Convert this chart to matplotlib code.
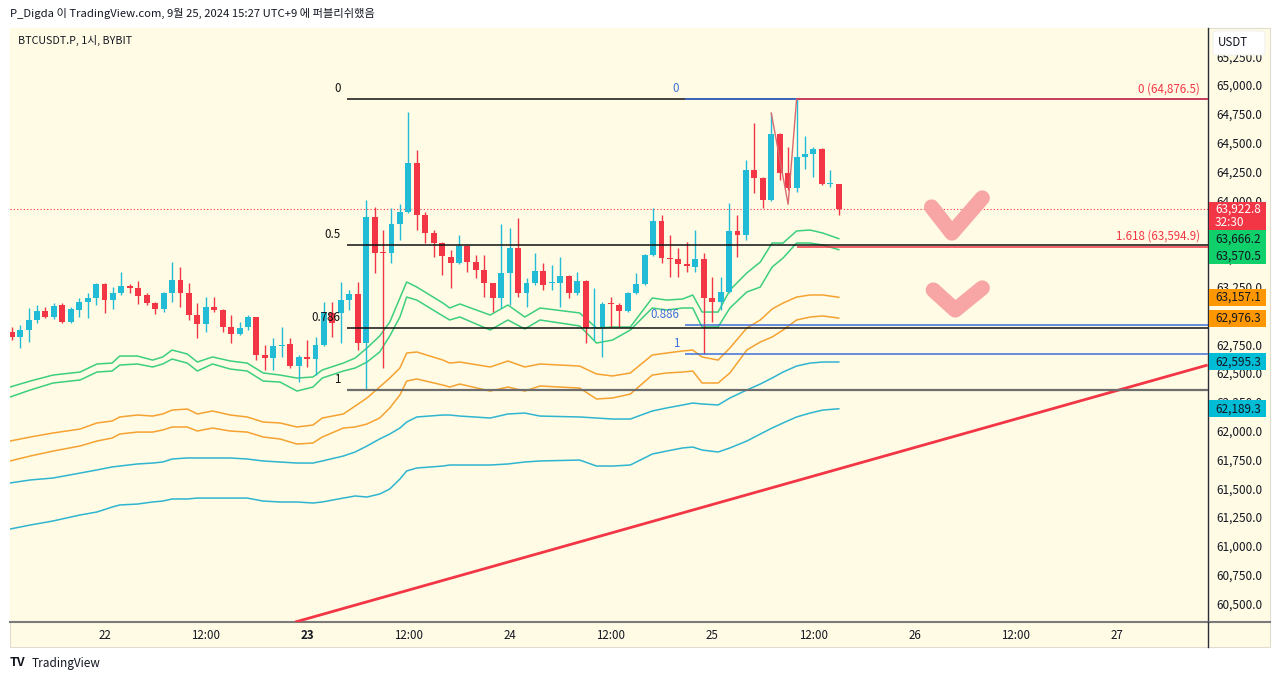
import matplotlib
matplotlib.use('Agg')
import matplotlib.pyplot as plt
import matplotlib.transforms as mtransforms
from matplotlib.patches import Rectangle, FancyBboxPatch
from matplotlib.lines import Line2D
from matplotlib.ticker import FuncFormatter, FixedLocator
import numpy as np

plt.rcParams['font.family'] = ['Noto Sans CJK KR', 'DejaVu Sans']

# 1h candles, x = hours counted from 22 Sep 00:00
hours = list(range(-11, 88))
opens = [62856, 62812, 62873, 62960, 63038, 62986, 63090, 62942, 63047, 63116,
         63151, 63272, 63133, 63194, 63255, 63238, 63177, 63107, 63055, 63194,
         63307, 63194, 63003, 62925, 63073, 63047, 62899, 62838, 62899, 62986,
         62656, 62630, 62734, 62751, 62560, 62639, 62621, 62743, 63021, 63021,
         63133, 63186, 62760, 63854, 63550, 63541, 63793, 63897, 64323, 63871,
         63715, 63628, 63507, 63455, 63602, 63463, 63394, 63281, 63151, 63368,
         63585, 63194, 63281, 63385, 63281, 63281, 63342, 63194, 63298, 62890,
         62899, 63107, 63090, 63038, 63194, 63272, 63524, 63819, 63498, 63489,
         63446, 63420, 63489, 63151, 63116, 63203, 63732, 63698, 64262, 64193,
         64002, 64575, 64236, 64106, 64375, 64401, 64444, 64140, 64140]
closes = [62812, 62873, 62960, 63038, 62986, 63081, 62942, 63055, 63116, 63151,
          63272, 63133, 63194, 63255, 63238, 63168, 63107, 63055, 63194, 63307,
          63194, 63003, 62925, 63073, 63047, 62899, 62838, 62890, 62986, 62656,
          62630, 62734, 62743, 62560, 62639, 62621, 62743, 63029, 62934, 63133,
          63186, 62760, 63854, 63541, 63541, 63793, 63897, 64323, 63871, 63715,
          63628, 63515, 63455, 63602, 63463, 63394, 63281, 63151, 63368, 63585,
          63194, 63281, 63385, 63264, 63290, 63342, 63194, 63298, 62890, 62899,
          63099, 63099, 63038, 63194, 63272, 63524, 63819, 63498, 63489, 63446,
          63429, 63489, 63151, 63116, 63203, 63732, 63698, 64262, 64193, 64002,
          64575, 64236, 64106, 64375, 64401, 64444, 64140, 64149, 63922.8]
highs = [62899, 62916, 63064, 63090, 63073, 63107, 63107, 63073, 63151, 63194,
         63281, 63281, 63246, 63377, 63272, 63298, 63194, 63116, 63203, 63463,
         63420, 63281, 63107, 63160, 63160, 63055, 63003, 62942, 63003, 62986,
         62743, 62803, 62899, 62803, 62656, 62786, 62812, 63116, 63116, 63290,
         63220, 63290, 64002, 63941, 63741, 63932, 63967, 64766, 64436, 63897,
         63741, 63637, 63567, 63698, 63610, 63524, 63524, 63285, 63793, 63759,
         63845, 63324, 63541, 63455, 63437, 63507, 63350, 63377, 63307, 63238,
         63116, 63160, 63107, 63203, 63368, 63533, 63932, 63871, 63698, 63585,
         63637, 63741, 63541, 63333, 63333, 63976, 63871, 64349, 64670, 64200,
         64757, 64583, 64462, 64876.5, 64557, 64462, 64453, 64262, 64140]
lows = [62786, 62717, 62769, 62934, 62977, 62968, 62934, 62934, 62986, 62977,
        63090, 63021, 63055, 63177, 63194, 63099, 63090, 63012, 63029, 63116,
        63073, 62960, 62803, 62856, 63029, 62856, 62760, 62830, 62873, 62612,
        62526, 62526, 62639, 62543, 62422, 62552, 62482, 62735, 62812, 62760,
        63047, 62699, 62352, 63368, 62543, 63455, 63654, 63889, 63741, 63628,
        63507, 63350, 63238, 63450, 63377, 63324, 63160, 63029, 63064, 63090,
        63160, 63073, 63264, 63220, 63220, 63073, 63151, 63177, 62760, 62786,
        62639, 62899, 62899, 63029, 63186, 63264, 63515, 63455, 63333, 63333,
        63377, 63377, 62662, 62942, 63047, 63194, 63507, 63654, 64062, 63932,
        63995, 64175, 64088, 64071, 64271, 64201, 64135, 64114, 63871]

# band lines (green / orange / cyan pairs)
band_hours = [-11.2, -8.8, -6.1, -2.9, -0.9, 0.9, 1.8, 3.9, 5.7, 6.9, 8.0, 9.8,
              11.0, 12.8, 14.9, 16.9, 18.8, 20.8, 22.8, 24.7, 25.8, 28.3, 29.7,
              31.1, 32.6, 33.8, 35.0, 35.8, 37.0, 40.1, 40.9, 42.1, 45.7, 47.8,
              49.8, 51.6, 56.3, 58.3, 60.2, 62.3, 64.9, 66.6, 68.5, 69.7, 70.8,
              72.7, 74.1, 76.1, 77.7, 79.1, 80.4, 82.0, 83.6, 85.1, 87.0]
green_up = [62378, 62430, 62482, 62508, 62578, 62586, 62647, 62647, 62612, 62639,
            62699, 62665, 62595, 62639, 62604, 62586, 62500, 62482, 62456, 62465,
            62526, 62586, 62630, 62717, 62821, 62942, 63151, 63290, 63246, 63107,
            63064, 63099, 63003, 63090, 62986, 63064, 63021, 62890, 62899, 62899,
            63151, 63133, 63142, 63177, 63029, 63029, 63220, 63368, 63463, 63628,
            63628, 63733, 63741, 63715, 63666.2]
green_low = [62291, 62352, 62413, 62439, 62508, 62517, 62569, 62578, 62552, 62578,
             62621, 62586, 62517, 62578, 62534, 62517, 62430, 62421, 62343, 62378,
             62456, 62517, 62543, 62595, 62682, 62821, 62986, 63159, 63133, 62995,
             62960, 62986, 62873, 62960, 62882, 62960, 62908, 62760, 62786, 62873,
             63064, 63047, 63064, 63064, 62899, 62899, 63064, 63203, 63246, 63420,
             63498, 63628, 63628, 63611, 63570.5]
orange_up = [61909, 61944, 61979, 62013, 62066, 62083, 62118, 62135, 62126, 62144,
             62178, 62187, 62144, 62170, 62135, 62118, 62074, 62066, 62031, 62048,
             62109, 62144, 62213, 62283, 62378, 62456, 62543, 62673, 62682, 62612,
             62586, 62595, 62552, 62604, 62552, 62578, 62560, 62491, 62474, 62500,
             62656, 62673, 62691, 62699, 62639, 62612, 62717, 62890, 62960, 63055,
             63107, 63159, 63177, 63177, 63157.1]
orange_low = [61736, 61779, 61822, 61866, 61909, 61935, 61970, 61987, 61987, 62005,
              62031, 62031, 61996, 62022, 61996, 61987, 61944, 61927, 61883, 61892,
              61944, 62022, 62031, 62057, 62109, 62196, 62309, 62430, 62448, 62395,
              62378, 62404, 62343, 62378, 62343, 62387, 62369, 62274, 62283, 62317,
              62482, 62500, 62508, 62517, 62413, 62413, 62500, 62699, 62769, 62812,
              62873, 62960, 62986, 62995, 62976.3]
cyan_up = [61545, 61571, 61588, 61631, 61658, 61684, 61692, 61710, 61718, 61727,
           61753, 61762, 61762, 61762, 61762, 61753, 61736, 61727, 61718, 61718,
           61736, 61779, 61814, 61866, 61927, 61970, 62022, 62074, 62118, 62135,
           62135, 62126, 62109, 62144, 62152, 62126, 62118, 62109, 62100, 62100,
           62170, 62196, 62222, 62239, 62231, 62222, 62283, 62352, 62404, 62456,
           62508, 62560, 62586, 62595, 62595.3]
cyan_low = [61145, 61180, 61215, 61267, 61293, 61336, 61354, 61362, 61380, 61388,
            61406, 61406, 61414, 61414, 61414, 61414, 61388, 61380, 61380, 61371,
            61380, 61414, 61432, 61423, 61449, 61493, 61579, 61649, 61675, 61692,
            61701, 61701, 61701, 61710, 61727, 61736, 61744, 61692, 61692, 61701,
            61796, 61822, 61849, 61857, 61831, 61814, 61849, 61909, 61970, 62022,
            62066, 62118, 62152, 62178, 62189.3]

# drawings
fib_high = 64876.5
black_low = 62352
black_start = 28.7
black_levels = [0, 0.5, 0.786, 1]
blue_low = 62662
blue_start = 68.8
blue_levels = [0, 0.886, 1]
ext_hours = [79, 81, 82]
ext_prices = [64757, 63964.9, 64876.5]
ext_levels = [0, 1.618]
trend_hours = [22.6, 130.7]
trend_prices = [60338, 62569]
check1_hours = [98.0, 100.4, 104.0]
check1_prices = [63941, 63715, 64019]
check2_hours = [98.2, 100.8, 104.0]
check2_prices = [63220, 63047, 63238]

last_price = 63922.8
countdown = '32:30'

tick_hours = [0, 12, 24, 36, 48, 60, 72, 84, 96, 108, 120]
tick_labels = ['22', '12:00', '23', '12:00', '24', '12:00', '25', '12:00', '26', '12:00', '27']
price_ticks = [60500 + 250 * k for k in range(20)]

UP = '#22bcd6'
DOWN = '#f23645'
GREEN = '#3ccf7d'
ORANGE = '#f5a231'
CYAN = '#2eb5d0'
BLUE = '#3d6fd9'
CREAM = '#fffbe5'
TXT = '#131722'

W, H = 1280, 681
fig = plt.figure(figsize=(12.8, 6.81), dpi=100)
fig.patch.set_facecolor('white')


def fx(x):
    return x / W


def fy(y):
    return 1 - y / H


fig.patches.append(Rectangle((fx(10), fy(647)), fx(1260), 619 / H, transform=fig.transFigure,
                             facecolor=CREAM, edgecolor='#e0ddd0', lw=0.8, zorder=-5))

ax = fig.add_axes([fx(10), fy(622), 1198 / W, 594 / H])
ax.set_facecolor(CREAM)
xmin, xmax = -11.2, 130.75
ymin, ymax = 60338, 65495
ax.set_xlim(xmin, xmax)
ax.set_ylim(ymin, ymax)

# bands
for vals, col in [(green_up, GREEN), (green_low, GREEN), (orange_up, ORANGE),
                  (orange_low, ORANGE), (cyan_up, CYAN), (cyan_low, CYAN)]:
    ax.plot(band_hours, vals, color=col, lw=1.1, zorder=2)

# candles
o = np.array(opens)
c = np.array(closes)
colors = np.where(c >= o, UP, DOWN)
ax.vlines(hours, lows, highs, colors=colors, lw=1, zorder=3)
ax.bar(hours, np.maximum(np.abs(c - o), 9), bottom=np.minimum(o, c), width=0.7,
       color=colors, lw=0, zorder=4)

# trend line
ax.plot(trend_hours, trend_prices, color='#f23645', lw=2, zorder=5, solid_capstyle='butt')

# current price
ax.axhline(last_price, color=DOWN, lw=0.8, ls=(0, (1, 2)), zorder=2)

# fib retracement (black)
for lv in black_levels:
    p = fib_high - lv * (fib_high - black_low)
    col = '#6d6d6d' if lv == 1 else '#111111'
    ax.hlines(p, black_start, xmax, color=col, lw=1.6 if lv == 1 else 1.1, zorder=6)
    ax.annotate(f'{lv:g}', (black_start, p), xytext=(-6, 4), textcoords='offset pixels',
                ha='right', va='bottom', fontsize=8.3, color='#111111', zorder=9)

# fib retracement (blue)
for lv in blue_levels:
    p = fib_high - lv * (fib_high - blue_low)
    ax.hlines(p, blue_start, xmax, color=BLUE, lw=1.1, zorder=7)
    ax.annotate(f'{lv:g}', (blue_start, p), xytext=(-6, 4), textcoords='offset pixels',
                ha='right', va='bottom', fontsize=8.3, color=BLUE, zorder=9)

# trend based fib extension (red)
trans = mtransforms.blended_transform_factory(ax.transAxes, ax.transData)
ax.plot(ext_hours, ext_prices, color='#d9696f', lw=1, zorder=7)
for lv in ext_levels:
    p = ext_prices[2] - lv * (ext_prices[0] - ext_prices[1])
    ax.hlines(p, ext_hours[2], xmax, color=DOWN, lw=1.1, zorder=8)
    ax.annotate(f'{lv:g} ({p:,.1f})', (1, p), xycoords=trans, xytext=(-8, 4),
                textcoords='offset pixels', ha='right', va='bottom', fontsize=8.3,
                color=DOWN, zorder=9)

# hand drawn check marks
for hh, pp in [(check1_hours, check1_prices), (check2_hours, check2_prices)]:
    ax.plot(hh, pp, color='#f7a2a2', lw=11, solid_capstyle='round',
            solid_joinstyle='round', alpha=0.95, zorder=6)

# axes look
for s in ['top', 'left']:
    ax.spines[s].set_visible(False)
ax.spines['right'].set_color('#2a2e39')
ax.spines['right'].set_linewidth(1)
ax.spines['bottom'].set_color('#7b7b7b')
ax.spines['bottom'].set_linewidth(1.5)

ax.xaxis.set_major_locator(FixedLocator(tick_hours))
ax.set_xticklabels(tick_labels)
ax.get_xticklabels()[2].set_fontweight('bold')
ax.tick_params(axis='x', length=0, pad=5, labelsize=8.3, labelcolor=TXT)
ax.yaxis.tick_right()
ax.yaxis.set_major_locator(FixedLocator(price_ticks))
ax.yaxis.set_major_formatter(FuncFormatter(lambda v, pos: f'{v:,.1f}'))
ax.tick_params(axis='y', length=0, pad=6, labelsize=8.5, labelcolor=TXT)

fig.add_artist(Line2D([fx(1208), fx(1270)], [fy(622), fy(622)], color='#7b7b7b', lw=1.5))
fig.add_artist(Line2D([fx(1208), fx(1208)], [fy(622), fy(647)], color='#2a2e39', lw=1))

# price scale labels
ppx = (ymax - ymin) / 594
bx, bw = 1 + 1 / 1198, 57 / 1198
ax.add_patch(Rectangle((bx, last_price - 21 * ppx), bw, 28 * ppx, transform=trans,
                       facecolor=DOWN, lw=0, clip_on=False, zorder=10))
ax.text(1 + 7 / 1198, last_price, f'{last_price:,.1f}', transform=trans, ha='left',
        va='center', fontsize=8.5, color='white', clip_on=False, zorder=11)
ax.text(1 + 7 / 1198, last_price - 13 * ppx, countdown, transform=trans, ha='left',
        va='center', fontsize=8.5, color='white', clip_on=False, zorder=11)

bottom = last_price - 21 * ppx
for val, col in [(green_up[-1], '#10d06b'), (green_low[-1], '#10d06b'),
                 (orange_up[-1], '#ff9800'), (orange_low[-1], '#ff9800'),
                 (cyan_up[-1], '#00bcd4'), (cyan_low[-1], '#00bcd4')]:
    center = min(val, bottom - 8.5 * ppx)
    ax.add_patch(Rectangle((bx, center - 8.5 * ppx), bw, 17 * ppx, transform=trans,
                           facecolor=col, lw=0, clip_on=False, zorder=10))
    ax.text(1 + 7 / 1198, center, f'{val:,.1f}', transform=trans, ha='left', va='center',
            fontsize=8.5, color=TXT, clip_on=False, zorder=11)
    bottom = center - 8.5 * ppx

# currency box
fig.patches.append(FancyBboxPatch((fx(1213), fy(55)), fx(52), 24 / H, transform=fig.transFigure,
                                  boxstyle='round,pad=0,rounding_size=0.004',
                                  facecolor='white', edgecolor='#eeeeee', lw=0.6, zorder=5))
fig.text(fx(1233), fy(42), 'USDT', ha='center', va='center', fontsize=8.3, color=TXT, zorder=6)

# header / symbol / footer
fig.text(fx(10), fy(13), 'P_Digda 이 TradingView.com, 9월 25, 2024 15:27 UTC+9 에 퍼블리쉬했음',
         ha='left', va='center', fontsize=8.1, color=TXT)
fig.text(fx(18), fy(40), 'BTCUSDT.P, 1시, BYBIT', ha='left', va='center', fontsize=7.7, color=TXT)
fig.text(fx(10), fy(663), 'TV', ha='left', va='center', fontsize=9, fontweight='heavy', color=TXT)
fig.text(fx(32), fy(663), 'TradingView', ha='left', va='center', fontsize=8.5, color=TXT)

fig.savefig('out.png', dpi=100, facecolor='white')
